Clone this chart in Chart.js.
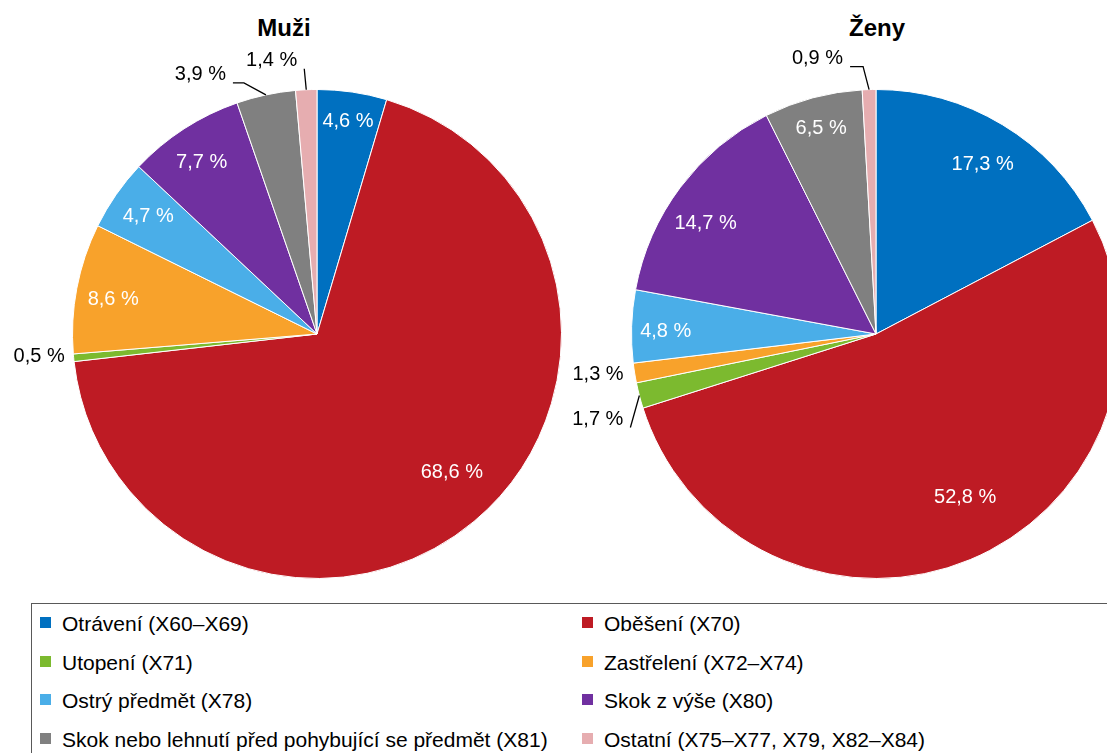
<!DOCTYPE html>
<html lang="cs">
<head>
<meta charset="utf-8">
<script src="https://cdn.jsdelivr.net/npm/chart.js@4.4.1/dist/chart.umd.min.js"></script>
<style>
  body { margin: 0; width: 1107px; height: 753px; overflow: hidden; background: #fff; position: relative;
         font-family: "Liberation Sans", Arial, sans-serif; color: #000; }
  canvas { position: absolute; top: 0; }
  #cMuzi { left: 0; }
  #cZeny { left: 560px; }
  .title { position: absolute; top: 16px; font: bold 24px/24px "Liberation Sans Narrow", "Liberation Sans", Arial, sans-serif;
           transform: translateX(-50%); white-space: nowrap; }
  #legend { position: absolute; left: 31px; top: 603px; width: 1120px; height: 200px; border: 1px solid #595959; box-sizing: border-box; }
  .item { position: absolute; height: 24px; font-size: 21px; line-height: 24px; white-space: nowrap; }
  .item i { position: absolute; left: 0; top: 5px; width: 11px; height: 11px; }
  .item span { position: absolute; left: 22px; top: 0; }
</style>
</head>
<body>
<div class="title" style="left:284px">Muži</div>
<div class="title" style="left:877px">Ženy</div>
<canvas id="cMuzi" width="580" height="600"></canvas>
<canvas id="cZeny" width="580" height="600"></canvas>
<div id="legend"></div>

<script>
// categories (ICD-10 codes)
const categories = [
  'Otrávení (X60–X69)',
  'Oběšení (X70)',
  'Utopení (X71)',
  'Zastřelení (X72–X74)',
  'Ostrý předmět (X78)',
  'Skok z výše (X80)',
  'Skok nebo lehnutí před pohybující se předmět (X81)',
  'Ostatní (X75–X77, X79, X82–X84)'
];

// shares in %
const muziValues = [4.6, 68.6, 0.5, 8.6, 4.7, 7.7, 3.9, 1.4];
const zenyValues = [17.3, 52.8, 1.7, 1.3, 4.8, 14.7, 6.5, 0.9];

const sliceColors = ['#0070C0', '#BE1B24', '#7CBA2F', '#F8A22B', '#4AAEE8', '#7030A0', '#808080', '#E6ADB0'];

// label placement: inside -> [radius fraction, angle shift deg]; outside -> [dx, dy, leader]
// leader: -1 none, 0 straight, >0 elbow length
const muziInside = [[0.88, 0], [0.79, -4.3], null, [0.845, -1.3], [0.84, 0], [0.845, -1], null, null];
const muziOutside = [null, null, [-9, -1, -1], null, null, null, [-40, -20, 11], [-9, -29, 0]];
const zenyInside = [[0.82, 1], [0.76, -6], null, null, [0.86, -1], [0.83, -4], [0.87, 0], null];
const zenyOutside = [null, null, [-16, 24, 0], [-11, 1, -1], null, null, null, [-26, -31, 13]];

function fmt(v) {
    return v.toFixed(1).replace('.', ',') + ' %';
}

// draws the percent labels and leader lines
const sliceLabels = {
    id: 'sliceLabels',
    afterDatasetsDraw(chart, args, opts) {
        const ctx = chart.ctx;
        const meta = chart.getDatasetMeta(0);
        const values = chart.data.datasets[0].data;
        ctx.save();
        ctx.font = '20px "Liberation Sans", Arial, sans-serif';
        ctx.textBaseline = 'middle';
        meta.data.forEach((arc, i) => {
            const p = arc.getProps(['x', 'y', 'startAngle', 'endAngle', 'outerRadius'], true);
            const mid = (p.startAngle + p.endAngle) / 2;
            const text = fmt(values[i]);
            const ins = opts.inside[i];
            if (ins) {
                const a = mid + ins[1] * Math.PI / 180;
                const r = p.outerRadius * ins[0];
                ctx.fillStyle = '#fff';
                ctx.textAlign = 'center';
                ctx.fillText(text, p.x + Math.cos(a) * r, p.y + Math.sin(a) * r);
                return;
            }
            const out = opts.outside[i];
            const ex = p.x + Math.cos(mid) * p.outerRadius;
            const ey = p.y + Math.sin(mid) * p.outerRadius;
            const tx = ex + out[0], ty = ey + out[1];
            ctx.fillStyle = '#000';
            ctx.textAlign = 'right';
            ctx.fillText(text, tx, ty);
            if (out[2] >= 0) {
                const lx = tx + 7, ly = ty + 8;
                ctx.strokeStyle = '#000';
                ctx.lineWidth = 1.3;
                ctx.beginPath();
                ctx.moveTo(lx, ly);
                if (out[2] > 0) ctx.lineTo(lx + out[2], ly);
                ctx.lineTo(ex, ey);
                ctx.stroke();
            }
        });
        ctx.restore();
    }
};

function makePie(id, values, inside, outside, padding) {
    return new Chart(document.getElementById(id), {
        type: 'pie',
        data: {
            labels: categories,
            datasets: [{
                data: values,
                backgroundColor: sliceColors,
                borderColor: '#ffffff',
                borderWidth: 1
            }]
        },
        options: {
            responsive: false,
            animation: false,
            events: [],
            layout: { padding: padding },
            plugins: {
                legend: { display: false },
                tooltip: { enabled: false },
                sliceLabels: { inside: inside, outside: outside }
            }
        },
        plugins: [sliceLabels]
    });
}

makePie('cMuzi', muziValues, muziInside, muziOutside, { left: 72, right: 18, top: 89, bottom: 21 });
makePie('cZeny', zenyValues, zenyInside, zenyOutside, { left: 71, right: 19, top: 89, bottom: 21 });

// legend, two columns
const legend = document.getElementById('legend');
categories.forEach((name, i) => {
    const div = document.createElement('div');
    div.className = 'item';
    div.style.left = (i % 2 === 0 ? 8 : 550) + 'px';
    div.style.top = (8 + Math.floor(i / 2) * 38.5) + 'px';
    const sw = document.createElement('i');
    sw.style.background = sliceColors[i];
    const span = document.createElement('span');
    span.textContent = name;
    div.appendChild(sw);
    div.appendChild(span);
    legend.appendChild(div);
});
</script>
</body>
</html>
